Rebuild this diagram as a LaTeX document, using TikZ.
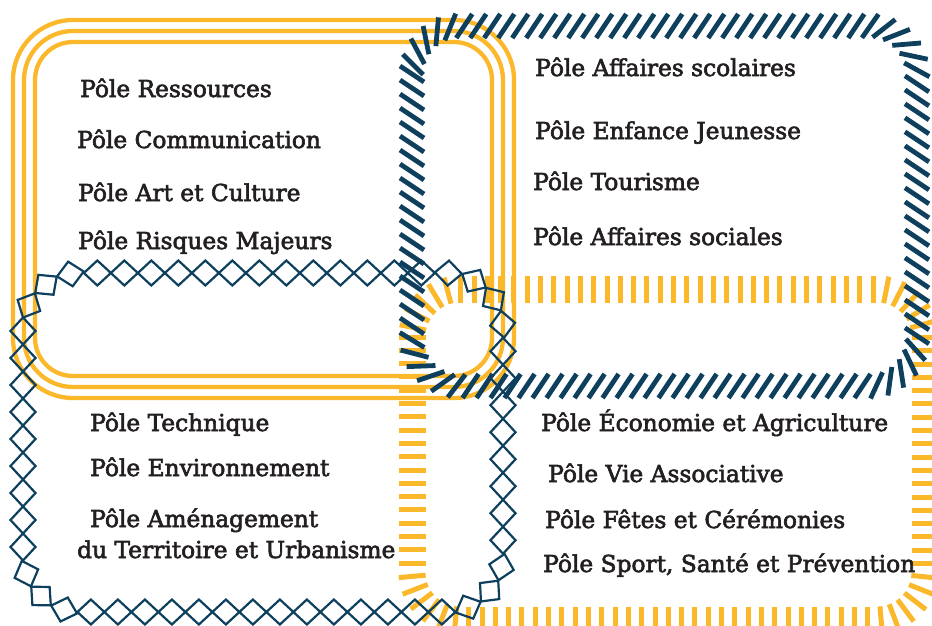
\documentclass[tikz,border=0pt]{standalone}
\usepackage{fontspec}
\newfontfamily\polefont{DejaVu Serif}[FakeBold=2.6]
\usetikzlibrary{decorations.markings}

\definecolor{poleorange}{RGB}{251,184,42}
\definecolor{polenavy}{RGB}{14,64,94}
\definecolor{poletext}{RGB}{35,31,32}

\tikzset{
    pole/.style={anchor=base west, inner sep=0pt, text=poletext, font=\polefont\fontsize{23.3}{28}\selectfont},
    triple/.style={draw=poleorange, line width=4.3pt},
    hatch/.style={decorate, decoration={markings,
        mark=between positions 0 and 1 step 14pt with {\draw[polenavy, line width=4.8pt, sharp corners] (-8pt,-12pt) -- (8pt,12pt);}}},
    ticks/.style={decorate, decoration={markings,
        mark=between positions 0 and 1 step 13.3pt with {\draw[poleorange, line width=5pt, sharp corners] (0pt,-13.5pt) -- (0pt,13.5pt);}}},
    diamonds/.style={decorate, decoration={markings,
        mark=between positions 0 and 1 step 27pt with {\draw[polenavy, line width=2.2pt, sharp corners, line join=miter] (-13.5pt,0pt) -- (0pt,12.5pt) -- (13.5pt,0pt) -- (0pt,-12.5pt) -- cycle;}}}
}

\begin{document}
\begin{tikzpicture}[x=1pt, y=-1pt]
    \useasboundingbox (0,0) rectangle (932,626);

    % top left: three lines
    \draw[triple, rounded corners=60pt] (13,20) rectangle (514,398);
    \draw[triple, rounded corners=49pt] (24,31) rectangle (503,387);
    \draw[triple, rounded corners=38pt] (35,42) rectangle (492,376);

    % bottom right: ticks
    \path[ticks, rounded corners=48pt] (412,289) rectangle (925,620);

    % top right: hatching
    \path[hatch, rounded corners=48pt] (412,26) rectangle (917,386);

    % bottom left: diamonds
    \path[diamonds, rounded corners=58pt] (23,273) rectangle (503,612);

    \node (Res) at (80,97) [pole] {Pôle Ressources};
    \node (Com) at (77,148) [pole] {Pôle Communication};
    \node (Art) at (78,201) [pole] {Pôle Art et Culture};
    \node (Risq) at (78,249) [pole] {Pôle Risques Majeurs};

    \node (Scol) at (535,76) [pole] {Pôle Affaires scolaires};
    \node (Enf) at (535,139) [pole] {Pôle Enfance Jeunesse};
    \node (Tour) at (533,190) [pole] {Pôle Tourisme};
    \node (Soc) at (533,245) [pole] {Pôle Affaires sociales};

    \node (Tech) at (90,431) [pole] {Pôle Technique};
    \node (Env) at (90,476) [pole] {Pôle Environnement};
    \node (Amen) at (90,527) [pole] {Pôle Aménagement};
    \node (Terr) at (77,558) [pole] {du Territoire et Urbanisme};

    \node (Eco) at (541,431) [pole] {Pôle Économie et Agriculture};
    \node (Vie) at (548,482) [pole] {Pôle Vie Associative};
    \node (Fete) at (545,528) [pole] {Pôle Fêtes et Cérémonies};
    \node (Sport) at (543,572) [pole] {Pôle Sport, Santé et Prévention};
\end{tikzpicture}
\end{document}
